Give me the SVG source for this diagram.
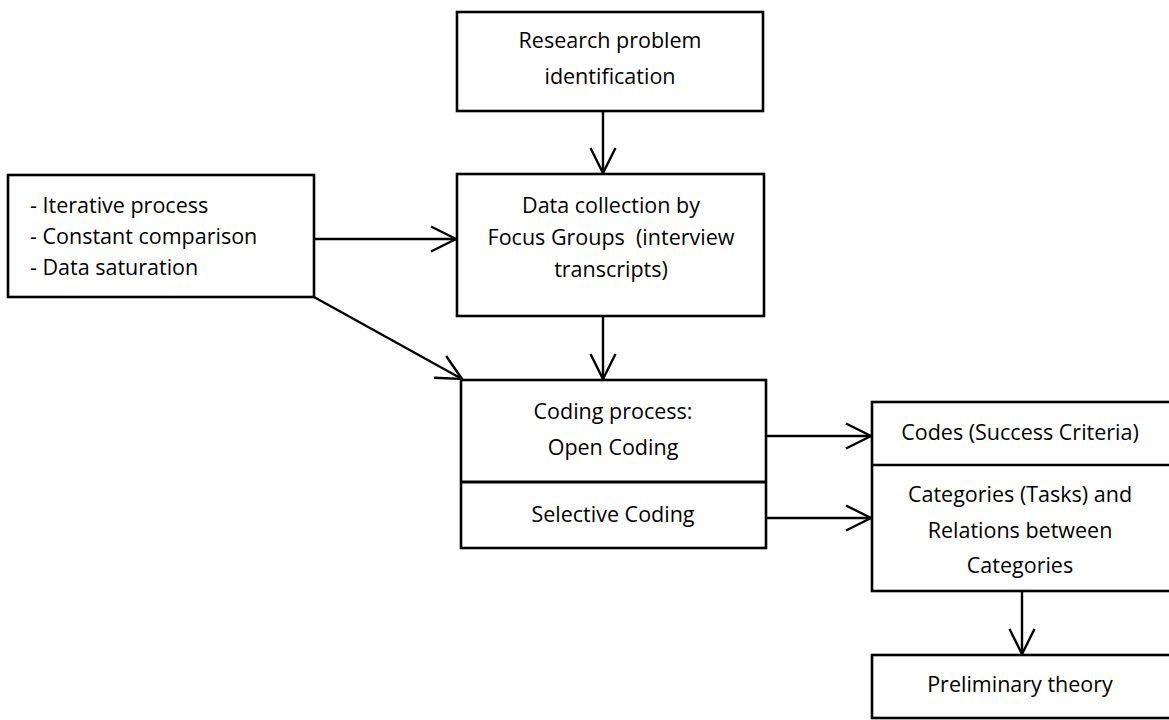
<svg xmlns="http://www.w3.org/2000/svg" width="1169" height="720" viewBox="0 0 1169 720">
  <style>
    .box { fill: #fff; stroke: #000; stroke-width: 2.6; }
    .wire { fill: none; stroke: #000; stroke-width: 2.4; }
    text { font-family: "Open Sans", "Liberation Sans", sans-serif; font-size: 21.5px; fill: #000; }
    .c { text-anchor: middle; }
  </style>
  <defs>
    <marker id="vhead" markerUnits="userSpaceOnUse" markerWidth="40" markerHeight="40" viewBox="-30 -20 40 40" refX="0" refY="0" orient="auto">
      <path d="M-25,-12.5 L0,0 L-25,12.5" fill="none" stroke="#000" stroke-width="2.4"/>
    </marker>
  </defs>
  <rect width="1169" height="720" fill="#fff"/>

  <g id="connectors">
    <line class="wire" x1="603" y1="111" x2="603" y2="173" marker-end="url(#vhead)"/>
    <line class="wire" x1="314" y1="239" x2="456" y2="239" marker-end="url(#vhead)"/>
    <line class="wire" x1="314" y1="297" x2="462" y2="379" marker-end="url(#vhead)"/>
    <line class="wire" x1="603" y1="316" x2="603" y2="379" marker-end="url(#vhead)"/>
    <line class="wire" x1="766" y1="436" x2="871" y2="436" marker-end="url(#vhead)"/>
    <line class="wire" x1="766" y1="518" x2="871" y2="518" marker-end="url(#vhead)"/>
    <line class="wire" x1="1022" y1="591" x2="1022" y2="654" marker-end="url(#vhead)"/>
  </g>

  <g id="research-problem">
    <rect class="box" x="457" y="12" width="306" height="99"/>
    <text class="c" x="610" y="48">Research problem</text>
    <text class="c" x="610" y="84">identification</text>
  </g>

  <g id="principles">
    <rect class="box" x="8" y="175" width="306" height="122"/>
    <text x="30" y="213">- Iterative process</text>
    <text x="30" y="244">- Constant comparison</text>
    <text x="30" y="275">- Data saturation</text>
  </g>

  <g id="data-collection">
    <rect class="box" x="457" y="174" width="307" height="142"/>
    <text class="c" x="611" y="213">Data collection by</text>
    <text class="c" x="611" y="245" xml:space="preserve">Focus Groups  (interview</text>
    <text class="c" x="611" y="277">transcripts)</text>
  </g>

  <g id="coding-process">
    <rect class="box" x="461" y="380" width="305" height="168"/>
    <line class="wire" x1="461" y1="482" x2="766" y2="482" style="stroke-width:2.8"/>
    <text class="c" x="613" y="419">Coding process:</text>
    <text class="c" x="613" y="455">Open Coding</text>
    <text class="c" x="613" y="522">Selective Coding</text>
  </g>

  <g id="codes-categories">
    <rect class="box" x="872" y="402" width="305" height="189"/>
    <line class="wire" x1="872" y1="465" x2="1177" y2="465" style="stroke-width:2.6"/>
    <text class="c" x="1020" y="440">Codes (Success Criteria)</text>
    <text class="c" x="1020" y="502">Categories (Tasks) and</text>
    <text class="c" x="1020" y="538">Relations between</text>
    <text class="c" x="1020" y="573">Categories</text>
  </g>

  <g id="preliminary-theory">
    <rect class="box" x="872" y="655" width="305" height="63"/>
    <text class="c" x="1020" y="692">Preliminary theory</text>
  </g>
</svg>
